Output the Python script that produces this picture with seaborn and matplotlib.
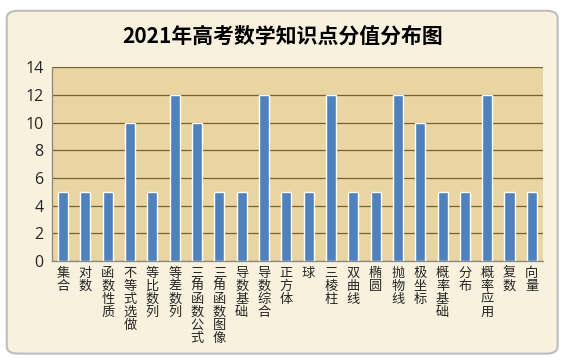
import numpy as np
import pandas as pd
import matplotlib.pyplot as plt
import seaborn as sns
from matplotlib.patches import FancyBboxPatch

topics = ['集合', '对数', '函数性质', '不等式选做', '等比数列', '等差数列', '三角函数公式',
          '三角函数图像', '导数基础', '导数综合', '正方体', '球', '三棱柱', '双曲线', '椭圆',
          '抛物线', '极坐标', '概率基础', '分布', '概率应用', '复数', '向量']
scores = [5, 5, 5, 10, 5, 12, 10, 5, 5, 12, 5, 5, 12, 5, 5, 12, 10, 5, 5, 12, 5, 5]

df = pd.DataFrame({'topic': topics, 'score': scores})

sns.set_style('white')
plt.rcParams['font.family'] = ['Noto Sans CJK SC', 'DejaVu Sans']

fig = plt.figure(figsize=(5.65, 3.59), dpi=100)
fig.patch.set_facecolor('white')

# outer rounded frame, kept behind the axes
frame = FancyBboxPatch((0.012, 0.015), 0.975, 0.955, boxstyle='round,pad=0,rounding_size=0.02',
                       transform=fig.transFigure, facecolor='#f8f1de', edgecolor='#bdbdbd',
                       linewidth=1.5, zorder=-10)
fig.add_artist(frame)

ax = fig.add_axes([0.092, 0.273, 0.869, 0.54])
ax.set_zorder(1)
ax.set_facecolor('#e9d5a2')

sns.barplot(data=df, x='topic', y='score', color='#4f81bd', width=0.45, saturation=1, ax=ax, zorder=3)

ax.set_ylim(0, 14)
ax.set_xlim(-0.5, len(topics) - 0.5)
ax.set_yticks(range(0, 15, 2))
ax.yaxis.grid(True, color='#7a6030', linewidth=0.9, zorder=1)
ax.set_axisbelow(True)

ax.set_xticks(range(len(topics)))
ax.set_xticklabels(['\n'.join(t) for t in topics], fontsize=9.5, linespacing=1.0, va='top')
ax.set_xticks(np.arange(-0.5, len(topics)), minor=True)
ax.tick_params(axis='x', which='major', length=0, pad=4)
ax.tick_params(axis='x', which='minor', length=4, color='#888888', direction='out')
ax.tick_params(axis='y', labelsize=11.5, length=4, color='#888888', direction='out', pad=2)
for lbl in ax.get_yticklabels():
    lbl.set_family(['Open Sans', 'DejaVu Sans'])

ax.set_xlabel('')
ax.set_ylabel('')
for side in ['top', 'right']:
    ax.spines[side].set_visible(False)
for side in ['left', 'bottom']:
    ax.spines[side].set_color('#888888')
    ax.spines[side].set_linewidth(0.9)

fig.text(0.5, 0.9, '2021年高考数学知识点分值分布图', ha='center', va='center',
         fontsize=15, fontweight='bold', color='black')

fig.savefig('out.png', dpi=100)
